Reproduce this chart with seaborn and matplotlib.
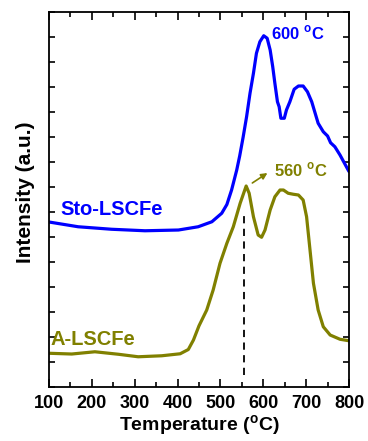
import numpy as np
import pandas as pd
import matplotlib
matplotlib.use("Agg")
import matplotlib.pyplot as plt
import seaborn as sns

# Sto-LSCFe curve (temperature, intensity)
sto_temp = [100, 168, 246, 324, 402, 448, 480, 503, 515, 526, 538, 545, 553, 561, 569,
            577, 584, 592, 601, 609, 616, 622, 627, 633, 637, 641, 649, 654, 662, 672,
            682, 693, 703, 713, 721, 728, 740, 750, 757, 767, 779, 798, 800]
sto_int = [6.6, 6.41, 6.31, 6.25, 6.28, 6.41, 6.61, 6.95, 7.3, 7.88, 8.68, 9.25, 10.0,
           10.81, 11.75, 12.55, 13.35, 13.81, 14.05, 13.95, 13.48, 12.81, 12.15, 11.41,
           11.21, 10.75, 10.75, 11.08, 11.41, 11.91, 12.04, 12.04, 11.81, 11.41, 10.95,
           10.55, 10.21, 10.04, 9.77, 9.61, 9.28, 8.68, 8.62]

# A-LSCFe curve
a_temp = [100, 153, 207, 262, 308, 363, 406, 425, 437, 450, 468, 483, 499, 515, 530,
          546, 560, 567, 577, 588, 596, 604, 616, 627, 639, 647, 658, 670, 682, 693,
          701, 709, 717, 728, 740, 756, 779, 800]
a_int = [1.35, 1.32, 1.41, 1.31, 1.21, 1.25, 1.33, 1.5, 1.88, 2.45, 3.08, 3.88, 4.95,
         5.75, 6.41, 7.35, 8.04, 7.75, 6.81, 6.08, 5.99, 6.28, 7.08, 7.61, 7.88, 7.88,
         7.75, 7.71, 7.68, 7.48, 6.81, 5.48, 4.15, 3.08, 2.41, 2.08, 1.91, 1.85]

dash_x = 555
dash_y = [0.5, 6.95]

sns.set_theme(style="ticks")
plt.rcParams["font.family"] = ["Liberation Sans", "DejaVu Sans"]
plt.rcParams["font.weight"] = "bold"
for k in ["text.color", "axes.labelcolor", "xtick.color", "ytick.color", "axes.edgecolor"]:
    plt.rcParams[k] = "black"

blue = "#0000ff"
olive = "#808000"
deg = r"$^\mathregular{o}$"

fig = plt.figure(figsize=(3.68, 4.41), dpi=100)
ax = fig.add_axes([0.1332, 0.1224, 0.8152, 0.8504])

sto = pd.DataFrame({"T": sto_temp, "I": sto_int})
a = pd.DataFrame({"T": a_temp, "I": a_int})
sns.lineplot(data=sto, x="T", y="I", color=blue, lw=2.3, ax=ax)
sns.lineplot(data=a, x="T", y="I", color=olive, lw=2.3, ax=ax)

ax.plot([dash_x, dash_x], dash_y, ls=(0, (4, 3)), color="black", lw=1.3)
ax.annotate("", xy=(615, 8.62), xytext=(569, 8.1),
            arrowprops=dict(arrowstyle="-|>", color=olive, lw=1.2, mutation_scale=9))

ax.text(619, 14.15, "600 " + deg + "C", color=blue, fontsize=12, fontweight="bold",
        va="center", ha="left")
ax.text(626, 8.68, "560 " + deg + "C", color=olive, fontsize=12, fontweight="bold",
        va="center", ha="left")
ax.text(126, 7.1, "Sto-LSCFe", color=blue, fontsize=14.5, fontweight="bold",
        va="center", ha="left")
ax.text(103, 1.9, "A-LSCFe", color=olive, fontsize=14.5, fontweight="bold",
        va="center", ha="left")

ax.set_xlim(100, 800)
ax.set_ylim(0, 15)
ax.set_xticks(range(100, 801, 100))
ax.set_xticks(range(150, 800, 100), minor=True)
ax.set_yticks(range(0, 16))
ax.set_yticklabels([])
ax.tick_params(axis="both", which="both", direction="in", top=True, right=True, width=1.2)
ax.tick_params(axis="both", which="major", length=6, labelsize=13, pad=6)
ax.tick_params(axis="both", which="minor", length=3.5)
ax.tick_params(axis="y", which="major", length=4)
for lab in ax.get_xticklabels():
    lab.set_fontweight("bold")
for s in ax.spines.values():
    s.set_linewidth(1.3)

ax.set_xlabel("Temperature (" + deg + "C)", fontsize=14, fontweight="bold", labelpad=1)
ax.set_ylabel("Intensity (a.u.)", fontsize=15, fontweight="bold")
ax.yaxis.set_label_coords(-0.047, 0.52)

fig.savefig("out.png", dpi=100)
